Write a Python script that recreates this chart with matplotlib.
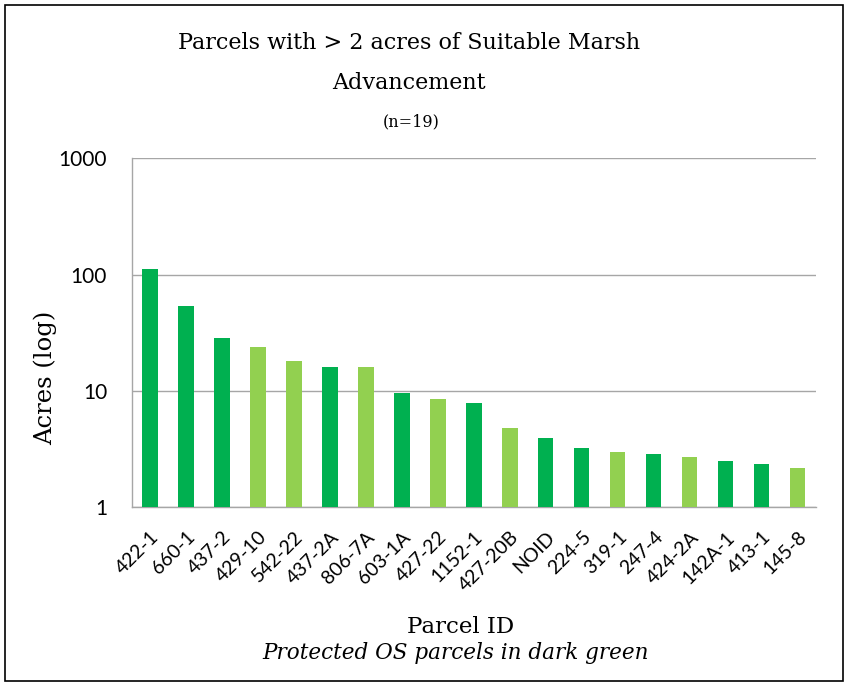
import matplotlib.pyplot as plt
from matplotlib.patches import Rectangle

parcels = ['422-1', '660-1', '437-2', '429-10', '542-22', '437-2A', '806-7A', '603-1A',
           '427-22', '1152-1', '427-20B', 'NOID', '224-5', '319-1', '247-4', '424-2A',
           '142A-1', '413-1', '145-8']
acres = [111, 53.7, 28.5, 23.9, 18.0, 16.1, 16.0, 9.6, 8.5, 7.9, 4.8, 3.95, 3.24,
         2.99, 2.88, 2.73, 2.51, 2.36, 2.18]
protected = [1, 1, 1, 0, 0, 1, 0, 1, 0, 1, 0, 1, 1, 0, 1, 0, 1, 1, 0]

DARK = '#00B050'
LIGHT = '#92D050'
colors = [DARK if p else LIGHT for p in protected]

serif = ['DejaVu Serif']
sans = ['Lato', 'DejaVu Sans']

fig = plt.figure(figsize=(8.49, 6.87), dpi=100)
ax = fig.add_axes([0.1555, 0.2613, 0.8055, 0.5087])

x = range(len(parcels))
ax.bar(x, acres, width=0.42, color=colors, zorder=3)
ax.set_yscale('log')
ax.set_ylim(1, 1000)
ax.set_xlim(-0.5, len(parcels) - 0.5)

ax.set_yticks([1, 10, 100, 1000])
ax.set_yticklabels(['1', '10', '100', '1000'], family=sans, fontsize=15)
ax.minorticks_off()
ax.set_xticks(list(x))
ax.set_xticklabels(parcels, rotation=45, ha='right', rotation_mode='anchor',
                   family=sans, fontsize=14)
ax.tick_params(axis='x', length=0, pad=15)
ax.tick_params(axis='y', length=0, pad=18)

ax.grid(axis='y', color='#a6a6a6', linewidth=1, zorder=0)
for s in ['top', 'right']:
    ax.spines[s].set_visible(False)
for s in ['left', 'bottom']:
    ax.spines[s].set_color('#a6a6a6')
    ax.spines[s].set_linewidth(1)

# label sits a bit below the middle of the plot, like in the original
ax.set_ylabel('Acres (log)', family=serif, fontsize=17.5, labelpad=1, y=0.37)

fig.text(0.482, 0.938, 'Parcels with > 2 acres of Suitable Marsh', family=serif,
         fontsize=16, ha='center', va='center')
fig.text(0.482, 0.879, 'Advancement', family=serif, fontsize=16, ha='center', va='center')
fig.text(0.484, 0.822, '(n=19)', family=serif, fontsize=11.5, ha='center', va='center')
fig.text(0.543, 0.087, 'Parcel ID', family=serif, fontsize=16.5, ha='center', va='center')
fig.text(0.537, 0.049, 'Protected OS parcels in dark green', family=serif, style='italic',
         fontsize=15.5, ha='center', va='center')

fig.patches.append(Rectangle((0.006, 0.009), 0.987, 0.984, transform=fig.transFigure,
                             fill=False, edgecolor='black', linewidth=1.2))

fig.savefig('out.png', dpi=100)
